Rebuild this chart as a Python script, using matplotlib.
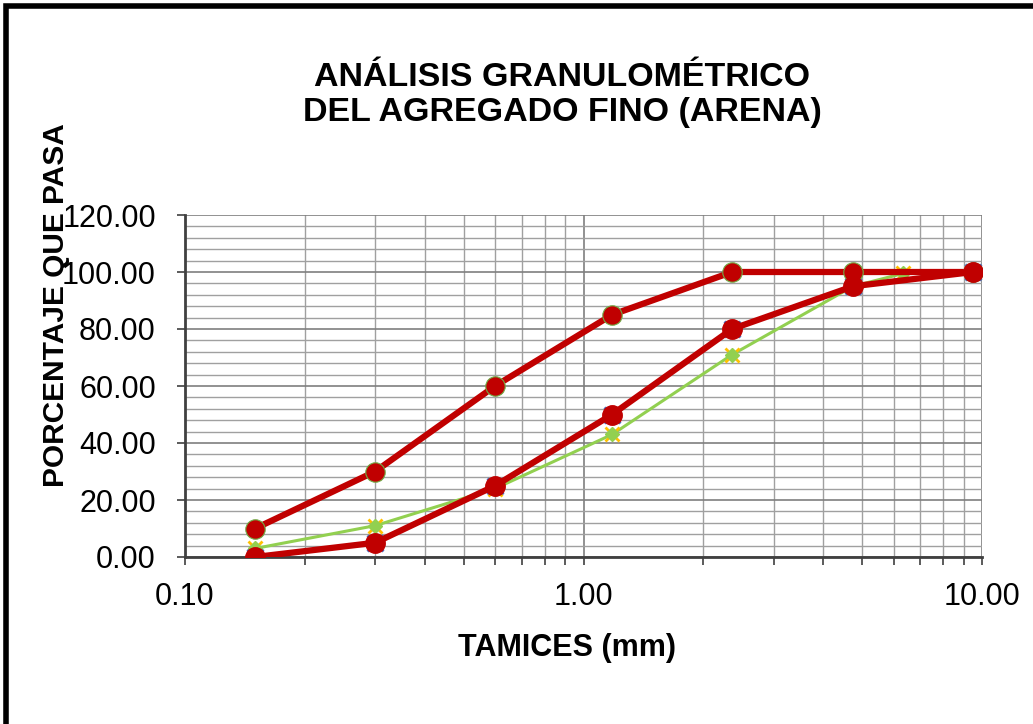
import matplotlib.pyplot as plt
from matplotlib.ticker import FixedLocator, NullFormatter, MultipleLocator, FormatStrFormatter
from matplotlib.patches import Rectangle

plt.rcParams['font.family'] = ['Liberation Sans', 'DejaVu Sans']

# Sieve openings (mm) and percent passing
tamices = [0.15, 0.30, 0.60, 1.18, 2.36, 4.75, 9.50]
limite_superior = [10, 30, 60, 85, 100, 100, 100]
limite_inferior = [0, 5, 25, 50, 80, 95, 100]

tamices_muestra = [0.15, 0.30, 0.60, 1.18, 2.36, 4.75, 6.35, 9.50]
pasa_muestra = [3, 11, 24, 43, 71, 95, 99.5, 100]

x_ticks = [0.1, 1, 10]
x_labels = ["0.10", "1.00", "10.00"]

rojo = "#C00000"
verde = "#92D050"

fig = plt.figure(figsize=(10.33, 7.24), dpi=100)
ax = fig.add_axes([185 / 1033, 1 - 557 / 724, (982 - 185) / 1033, (557 - 215) / 724])

# grid
ax.set_xscale("log")
ax.set_xlim(0.1, 10)
ax.set_ylim(0, 120)
ax.yaxis.set_major_locator(MultipleLocator(20))
ax.yaxis.set_minor_locator(MultipleLocator(4))
ax.yaxis.set_major_formatter(FormatStrFormatter("%.2f"))
ax.xaxis.set_major_locator(FixedLocator(x_ticks))
ax.set_xticklabels(x_labels)
minors = [m * d for d in (0.1, 1) for m in range(2, 10)]
ax.xaxis.set_minor_locator(FixedLocator(minors))
ax.xaxis.set_minor_formatter(NullFormatter())
ax.grid(True, which="major", color="#7f7f7f", lw=1.2)
ax.grid(True, which="minor", color="#a0a0a0", lw=1.0)
ax.set_axisbelow(True)

# series
ax.plot(tamices, limite_inferior, ls="none", marker="x", color="#4472C4", ms=12, mew=2, zorder=2)
ax.plot(tamices_muestra, pasa_muestra, color=verde, lw=2.2, zorder=3)
ax.plot(tamices_muestra, pasa_muestra, ls="none", marker="x", color="#FFC000", ms=10, mew=2, zorder=3)
ax.plot(tamices_muestra, pasa_muestra, ls="none", marker="D", color=verde, ms=7, zorder=3)
ax.plot(tamices, limite_superior, color=rojo, lw=4.5, marker="o", ms=14,
        mfc=rojo, mec="#70AD47", mew=0.8, zorder=4)
ax.plot(tamices, limite_inferior, color=rojo, lw=4.5, marker="o", ms=14,
        mfc=rojo, mec=rojo, zorder=4)

for s in ("top", "right"):
    ax.spines[s].set_visible(False)
for s in ("left", "bottom"):
    ax.spines[s].set_color("#404040")
    ax.spines[s].set_linewidth(2)
ax.tick_params(axis="both", which="major", labelsize=22, length=6, width=1.2, color="#404040")
ax.tick_params(axis="y", which="major", pad=15)
ax.tick_params(axis="x", which="major", pad=12)
ax.tick_params(axis="x", which="minor", length=6, width=1.2, color="#404040")
ax.tick_params(axis="y", which="minor", length=0)

fig.text(562 / 1033, 1 - 95 / 724, "ANÁLISIS GRANULOMÉTRICO\nDEL AGREGADO FINO (ARENA)",
         ha="center", va="center", fontsize=24.5, fontweight="bold", linespacing=1.2)
fig.text(567 / 1033, 1 - 648 / 724, "TAMICES (mm)", ha="center", va="center",
         fontsize=22, fontweight="bold")
fig.text(56 / 1033, 1 - 305 / 724, "PORCENTAJE QUE PASA", ha="center", va="center",
         rotation=90, fontsize=21.5, fontweight="bold", zorder=10)

# outer frame (only top and left visible in the reference)
fig.add_artist(Rectangle((6 / 1033, -0.1), 1.2, 1 - 6 / 724 + 0.1, transform=fig.transFigure,
                         fill=False, lw=4, edgecolor="black"))

fig.savefig("out.png", dpi=100)
